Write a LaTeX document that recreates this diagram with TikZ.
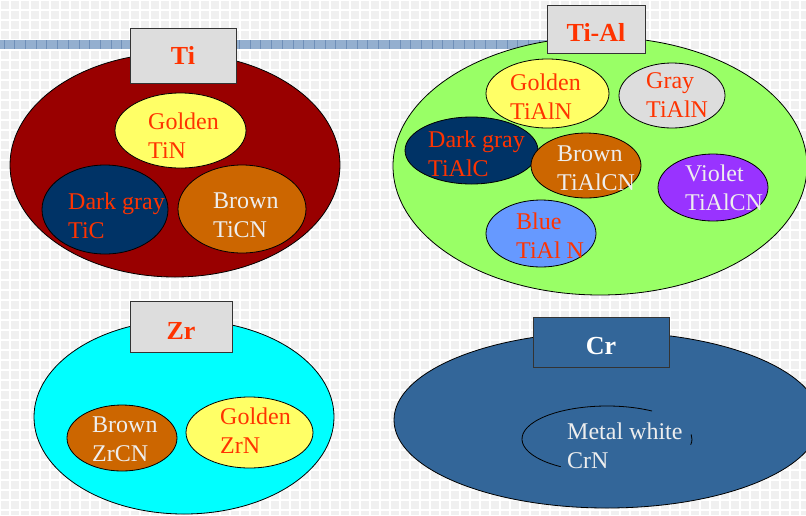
\documentclass[tikz,border=0pt]{standalone}
\usepackage{fontspec}
\setmainfont{Liberation Serif}
\usetikzlibrary{shapes.geometric}
\definecolor{bg}{HTML}{F0F0F0}
\definecolor{bandblue}{HTML}{94AFCF}
\definecolor{banddark}{HTML}{6F8FB8}
\definecolor{tired}{HTML}{990000}
\definecolor{golden}{HTML}{FFFF66}
\definecolor{navy}{HTML}{003366}
\definecolor{brownc}{HTML}{CC6600}
\definecolor{greenc}{HTML}{99FF66}
\definecolor{grayc}{HTML}{DDDDDD}
\definecolor{violetc}{HTML}{9933FF}
\definecolor{bluec}{HTML}{6699FF}
\definecolor{cyanc}{HTML}{00FFFF}
\definecolor{crblue}{HTML}{336699}
\definecolor{boxgray}{HTML}{DDDDDD}
\definecolor{txtred}{HTML}{FF3300}
\definecolor{txtwhite}{HTML}{EEEEEE}
\begin{document}
\begin{tikzpicture}[x=1pt,y=-1pt,
  oval/.style={ellipse, draw=black, line width=0.8pt, inner sep=0pt},
  lbl/.style={anchor=west, align=left, inner sep=0pt, font=\fontsize{24}{29}\selectfont},
  redtxt/.style={lbl, text=txtred},
  whitetxt/.style={lbl, text=txtwhite},
  titlebox/.style={rectangle, draw=black!80, line width=0.8pt, fill=boxgray, inner sep=0pt,
    text depth=0pt, font=\fontsize{26}{30}\selectfont\bfseries, text=txtred}]
\useasboundingbox (0,0) rectangle (806,515);
\begin{scope}
\clip (0,0) rectangle (806,515);
% background
\fill[bg] (0,0) rectangle (806,515);
\foreach \i in {0,10,...,810} {\draw[white, line width=1.2pt] (\i,0) -- (\i,515);}
\foreach \j in {0,10,...,520} {\draw[white, line width=1.2pt] (0,\j) -- (806,\j);}
% band
\fill[bandblue] (0,40) rectangle (548,49);
\foreach \i in {4,14.7,...,548} {\draw[banddark, line width=0.8pt] (\i,40) -- (\i,49);}

% ---- Ti group
\node[oval, fill=tired, minimum width=330, minimum height=224] (ti) at (175,165) {};
\node[titlebox, text height=18pt, minimum width=106, minimum height=55] (tit) at (183,55.5) {Ti};
\node[oval, fill=golden, minimum width=131, minimum height=75] (tin) at (180.5,130.5) {};
\node[oval, fill=navy, minimum width=126, minimum height=89] (tic) at (105,209.5) {};
\node[oval, fill=brownc, minimum width=128, minimum height=88] (ticn) at (242,209) {};
\node[redtxt] (tintx) at (148,135.5) {Golden\\TiN};
\node[redtxt] (tictx) at (68,215.5) {Dark gray\\TiC};
\node[whitetxt] (ticntx) at (213,215.5) {Brown\\TiCN};

% ---- Ti-Al group
\node[oval, fill=greenc, minimum width=414, minimum height=258] (tial) at (600,166) {};
\node[titlebox, text height=24pt, minimum width=98, minimum height=48] (tialt) at (596,29) {Ti-Al};
\node[oval, fill=golden, minimum width=123, minimum height=69] (tialn) at (547.5,93.5) {};
\node[oval, fill=grayc, minimum width=106, minimum height=65] (tialng) at (672,95.5) {};
\node[oval, fill=navy, minimum width=133, minimum height=67] (tialc) at (471.5,150.5) {};
\node[oval, fill=brownc, minimum width=110, minimum height=65] (tialcn) at (586,165.5) {};
\node[oval, fill=violetc, minimum width=110, minimum height=67] (tialcnv) at (713,187.5) {};
\node[oval, fill=bluec, minimum width=110, minimum height=67] (tialnb) at (541,233.5) {};
\node[redtxt] (tialntx) at (510,96.5) {Golden\\TiAlN};
\node[redtxt] (tialngtx) at (646,95) {Gray\\TiAlN};
\node[redtxt] (tialctx) at (428,154) {Dark gray\\TiAlC};
\node[whitetxt] (tialcntx) at (557,168) {Brown\\TiAlCN};
\node[whitetxt] (tialcnvtx) at (685,187.5) {Violet\\TiAlCN};
\node[redtxt] (tialnbtx) at (516,236) {Blue\\TiAl N};

% ---- Zr group
\node[oval, fill=cyanc, minimum width=300, minimum height=194] (zr) at (184,417) {};
\node[titlebox, text height=25pt, minimum width=102, minimum height=51] (zrt) at (181,326.5) {Zr};
\node[oval, fill=brownc, minimum width=110, minimum height=66] (zrcn) at (122,438) {};
\node[oval, fill=golden, minimum width=127, minimum height=71] (zrn) at (249.5,432.5) {};
\node[whitetxt] (zrcntx) at (92,439.5) {Brown\\ZrCN};
\node[redtxt] (zrntx) at (220,431) {Golden\\ZrN};

% ---- Cr group
\node[oval, fill=crblue, minimum width=426, minimum height=176] (cr) at (607,420) {};
\node[titlebox, fill=crblue, text=white, text height=25pt, minimum width=136, minimum height=50] (crt) at (601,342) {Cr};
\draw[black, line width=0.8pt] ([shift={(607,439)}]-58:85 and 33)
  arc[start angle=-58, end angle=-237, x radius=85, y radius=33];
\draw[black, line width=0.8pt] ([shift={(607,439)}]-8:85 and 33)
  arc[start angle=-8, end angle=10, x radius=85, y radius=33];
\node[whitetxt] (crntx) at (567,446) {Metal white\\CrN};
\end{scope}
\end{tikzpicture}
\end{document}
